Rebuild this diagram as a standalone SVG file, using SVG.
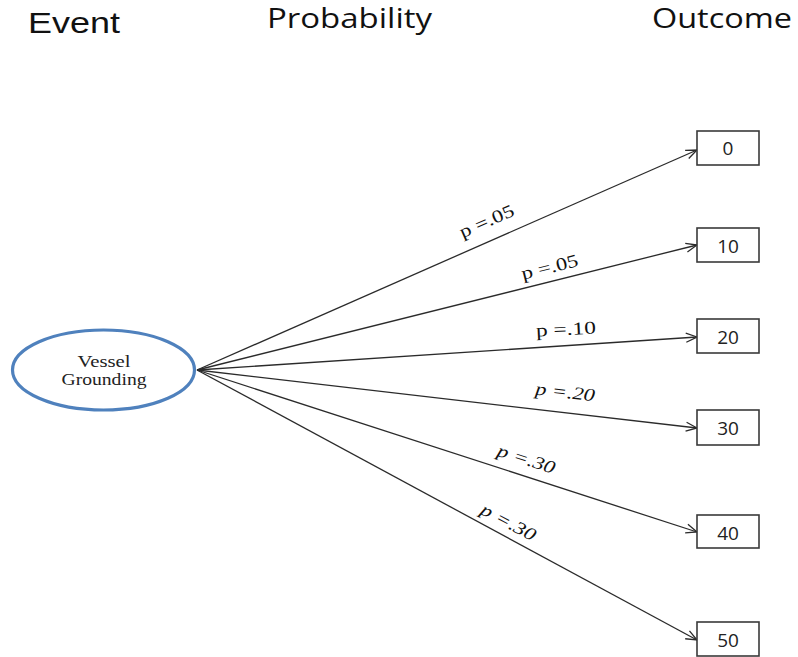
<svg xmlns="http://www.w3.org/2000/svg" width="798" height="657" viewBox="0 0 798 657">
  <style>
    .head { fill: #111; }
    .edge { stroke: #2b2b2b; stroke-width: 1.3; fill: none; marker-end: url(#arrow); }
    .prob { font-family: "Liberation Serif", "Times New Roman", serif; font-size: 18px; fill: #111; text-anchor: middle; }
    .prob-i { font-style: italic; }
    .box { fill: #fff; stroke: #3a3a3a; stroke-width: 1.6; }
    .val { font-family: "Open Sans", "Noto Sans", sans-serif; font-size: 19px; fill: #222; text-anchor: middle; }
    .evt { fill: #fff; stroke: #4f81bd; stroke-width: 3.2; }
    .evt-label { font-family: "Liberation Serif", "Times New Roman", serif; font-size: 16px; fill: #222; text-anchor: middle; }
  </style>
  <defs>
    <marker id="arrow" markerUnits="userSpaceOnUse" markerWidth="14" markerHeight="12" refX="12" refY="6" orient="auto">
      <path d="M1,1.5 L12,6 L1,10.5" fill="none" stroke="#2b2b2b" stroke-width="1.3"/>
    </marker>
  </defs>

  <rect width="798" height="657" fill="#fff"/>

  <!-- column headings -->
  <g id="headings">
    <text class="head" x="28" y="33" font-family="Liberation Sans, Arial, sans-serif" font-size="29" textLength="92" lengthAdjust="spacingAndGlyphs">Event</text>
    <text class="head" x="267" y="28" font-family="Open Sans, Noto Sans, sans-serif" font-size="27" textLength="165" lengthAdjust="spacingAndGlyphs">Probability</text>
    <text class="head" x="652" y="28" font-family="Open Sans, Noto Sans, sans-serif" font-size="27" textLength="140" lengthAdjust="spacingAndGlyphs">Outcome</text>
  </g>

  <!-- branches from the event to each outcome -->
  <g id="connectors">
    <line class="edge" x1="197" y1="370" x2="697" y2="150"/>
    <line class="edge" x1="197" y1="370" x2="697" y2="245"/>
    <line class="edge" x1="197" y1="370" x2="697" y2="337"/>
    <line class="edge" x1="197" y1="370" x2="697" y2="428"/>
    <line class="edge" x1="197" y1="370" x2="697" y2="532"/>
    <line class="edge" x1="197" y1="370" x2="697" y2="640"/>

    <g transform="translate(487,222) rotate(-23.5)"><text class="prob" x="0" y="5" textLength="58" lengthAdjust="spacingAndGlyphs">p =.05</text></g>
    <g transform="translate(550,268) rotate(-14)"><text class="prob" x="0" y="5" textLength="58" lengthAdjust="spacingAndGlyphs">p =.05</text></g>
    <g transform="translate(566,330) rotate(-3)"><text class="prob" x="0" y="5" textLength="60" lengthAdjust="spacingAndGlyphs">p =.10</text></g>
    <g transform="translate(565,393) rotate(6.5)"><text class="prob prob-i" x="0" y="5" textLength="60" lengthAdjust="spacingAndGlyphs">p =.20</text></g>
    <g transform="translate(526,460) rotate(18)"><text class="prob prob-i" x="0" y="5" textLength="60" lengthAdjust="spacingAndGlyphs">p =.30</text></g>
    <g transform="translate(508,523) rotate(28)"><text class="prob prob-i" x="0" y="5" textLength="60" lengthAdjust="spacingAndGlyphs">p =.30</text></g>
  </g>

  <!-- event node -->
  <g id="event">
    <ellipse class="evt" cx="103.5" cy="370" rx="91" ry="40"/>
    <text class="evt-label" x="104" y="367" textLength="53" lengthAdjust="spacingAndGlyphs">Vessel</text>
    <text class="evt-label" x="104" y="385" textLength="85" lengthAdjust="spacingAndGlyphs">Grounding</text>
  </g>

  <!-- outcome nodes -->
  <g id="outcome-0">
    <rect class="box" x="697" y="131" width="62" height="34"/>
    <text class="val" x="728" y="155">0</text>
  </g>
  <g id="outcome-10">
    <rect class="box" x="697" y="228" width="62" height="34"/>
    <text class="val" x="728" y="253">10</text>
  </g>
  <g id="outcome-20">
    <rect class="box" x="697" y="319" width="62" height="34"/>
    <text class="val" x="728" y="344">20</text>
  </g>
  <g id="outcome-30">
    <rect class="box" x="697" y="410" width="62" height="35"/>
    <text class="val" x="728" y="435">30</text>
  </g>
  <g id="outcome-40">
    <rect class="box" x="697" y="515" width="62" height="33"/>
    <text class="val" x="728" y="540">40</text>
  </g>
  <g id="outcome-50">
    <rect class="box" x="697" y="622" width="62" height="34"/>
    <text class="val" x="728" y="647">50</text>
  </g>
</svg>
